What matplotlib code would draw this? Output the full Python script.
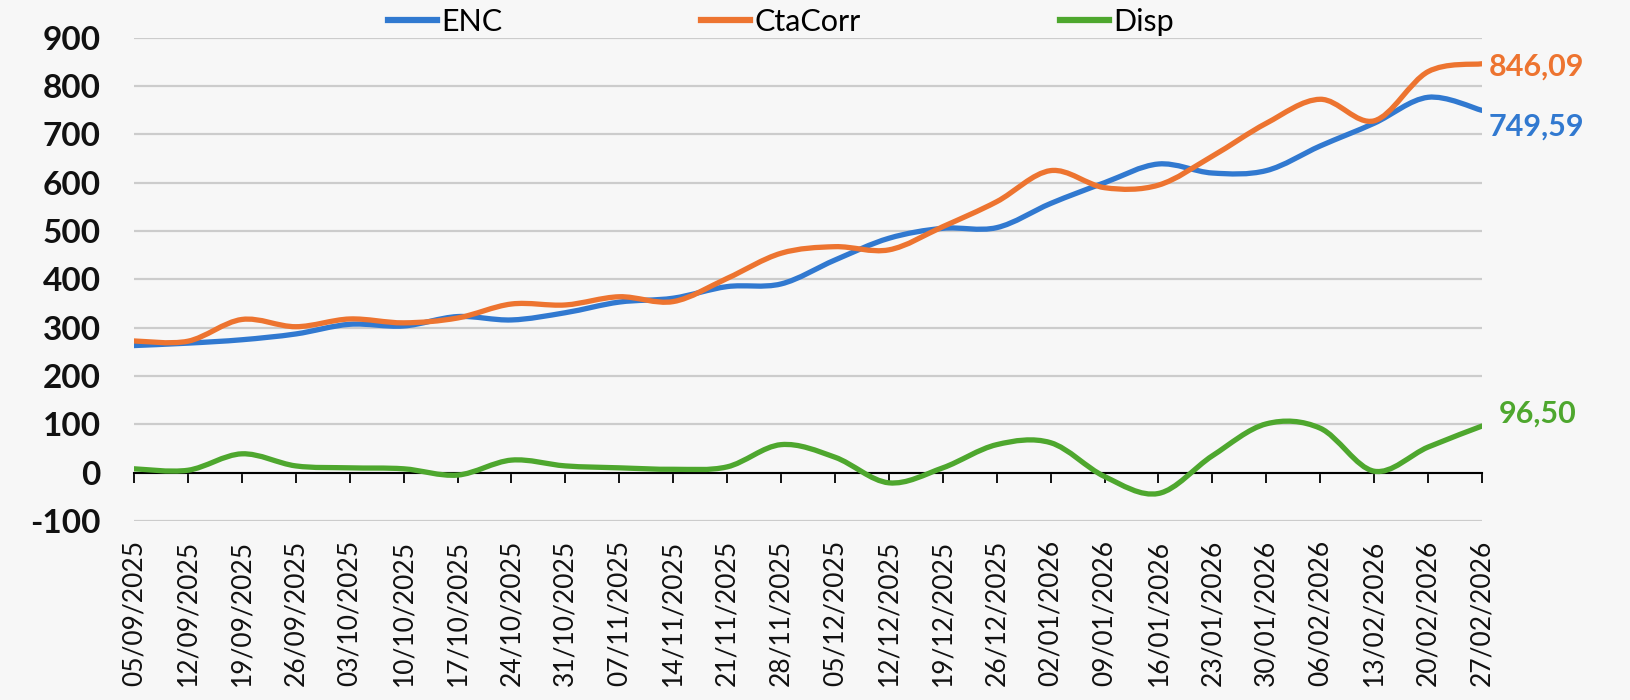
import matplotlib
matplotlib.use("Agg")
import matplotlib.pyplot as plt
import numpy as np
from matplotlib.path import Path
from matplotlib.patches import PathPatch
from matplotlib.lines import Line2D

plt.rcParams['font.family'] = ['Lato', 'DejaVu Sans']
plt.rcParams['axes.unicode_minus'] = False

# weekly dates (x categories)
dates = ['05/09/2025', '12/09/2025', '19/09/2025', '26/09/2025', '03/10/2025',
         '10/10/2025', '17/10/2025', '24/10/2025', '31/10/2025', '07/11/2025',
         '14/11/2025', '21/11/2025', '28/11/2025', '05/12/2025', '12/12/2025',
         '19/12/2025', '26/12/2025', '02/01/2026', '09/01/2026', '16/01/2026',
         '23/01/2026', '30/01/2026', '06/02/2026', '13/02/2026', '20/02/2026',
         '27/02/2026']

enc = [263, 268, 275, 287, 307, 303.5, 323, 316, 331, 353, 361, 385, 390.5,
       440, 485, 505.6, 507, 557, 600, 638.7, 620, 625, 676, 723, 776.7, 749.59]
cta_corr = [272.5, 272, 317, 302, 318, 310, 320, 349, 347, 364, 354, 402, 454,
            467.6, 461, 509, 560.7, 625, 589.7, 595, 655, 723, 772.6, 728, 829.8, 846.09]
disp = [8, 5, 39, 14, 10, 8, -5, 26, 14, 10, 7, 12, 58, 32, -21, 10, 58, 62,
        -8, -43, 35, 101, 92, 3, 53, 96.5]

series = [('ENC', enc, '#3179d0'), ('CtaCorr', cta_corr, '#ed7430'), ('Disp', disp, '#4ea72e')]


def smooth_path(x, y):
    # excel-like smoothed line: cubic bezier through every point
    pts = np.column_stack([x, y]).astype(float)
    n = len(pts)
    verts = [pts[0]]
    codes = [Path.MOVETO]
    for i in range(n - 1):
        p0 = pts[i - 1] if i > 0 else pts[i]
        p1 = pts[i]
        p2 = pts[i + 1]
        p3 = pts[i + 2] if i + 2 < n else pts[i + 1]
        verts += [p1 + (p2 - p0) / 6, p2 - (p3 - p1) / 6, p2]
        codes += [Path.CURVE4] * 3
    return Path(verts, codes)


fig = plt.figure(figsize=(16.3, 7), dpi=100, facecolor='#f7f7f7')
ax = fig.add_axes([134 / 1630, 1 - 521 / 700, 1348 / 1630, 483.3 / 700])
ax.set_facecolor('none')

x = np.arange(len(dates))
for name, vals, col in series:
    ax.add_patch(PathPatch(smooth_path(x, vals), fill=False, edgecolor=col, lw=3.8,
                           capstyle='round', joinstyle='round', zorder=3))

ax.set_xlim(0, len(dates) - 1)
ax.set_ylim(-100, 900)
ax.set_yticks(range(-100, 901, 100))
ax.yaxis.grid(True, color='#cccccc', lw=1.6)
ax.set_axisbelow(True)
ax.tick_params(axis='y', length=0, pad=24, labelsize=24)
for lab in ax.get_yticklabels():
    lab.set_fontweight('bold')
    lab.set_color('#111111')

for s in ['left', 'right', 'top']:
    ax.spines[s].set_visible(False)
ax.spines['bottom'].set_position(('data', 0))
ax.spines['bottom'].set_color('black')
ax.spines['bottom'].set_linewidth(1.5)
ax.spines['bottom'].set_zorder(2)
ax.set_xticks(x)
ax.set_xticklabels(dates, rotation=90, fontsize=19, color='#111111')
ax.tick_params(axis='x', direction='out', length=7.2, width=1.3, color='black', pad=41)

# end-of-series labels
ends = [(cta_corr[-1], '#ed7430', (5, -2)), (enc[-1], '#3179d0', (5, -12)),
        (disp[-1], '#4ea72e', (12, 9))]
for v, col, off in ends:
    ax.annotate(f"{v:.2f}".replace('.', ','), (x[-1], v), xytext=off,
                textcoords='offset points', ha='left', va='center',
                fontsize=22, fontweight='bold', color=col, annotation_clip=False)

handles = [Line2D([], [], color=c, lw=4.5) for _, _, c in series]
fig.legend(handles, [n for n, _, _ in series], loc='center',
           bbox_to_anchor=(781 / 1630, 1 - 22 / 700), ncol=3, frameon=False,
           fontsize=22, handlelength=1.6, handletextpad=0.15, columnspacing=6.5)

fig.savefig('out.png', dpi=100, facecolor=fig.get_facecolor())
